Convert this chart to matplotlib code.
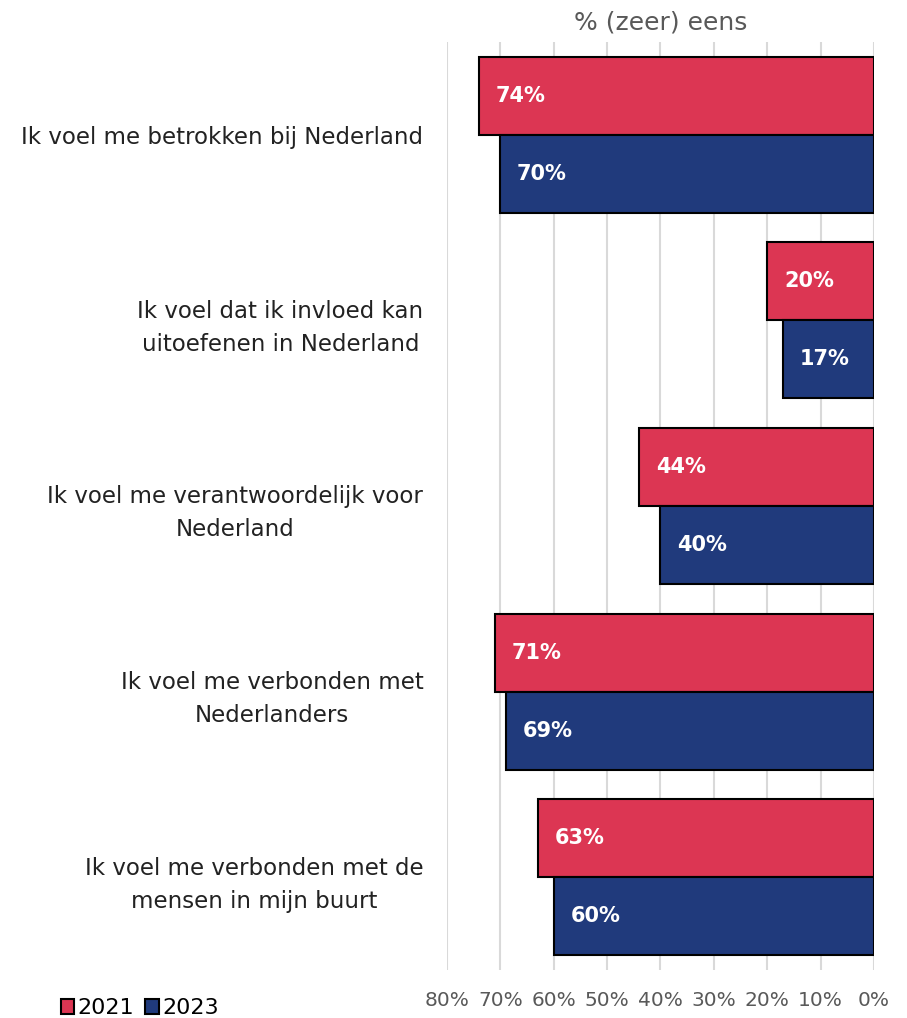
import matplotlib.pyplot as plt
import numpy as np

categories = [
    "Ik voel me betrokken bij Nederland",
    "Ik voel dat ik invloed kan\nuitoefenen in Nederland",
    "Ik voel me verantwoordelijk voor\nNederland",
    "Ik voel me verbonden met\nNederlanders",
    "Ik voel me verbonden met de\nmensen in mijn buurt",
]
vals_2021 = [74, 20, 44, 71, 63]
vals_2023 = [70, 17, 40, 69, 60]
series_names = ["2021", "2023"]
xticks = [80, 70, 60, 50, 40, 30, 20, 10, 0]

red = "#DC3653"
blue = "#203A7C"
grey = "#595959"

plt.rcParams['font.family'] = ['DejaVu Sans']

fig = plt.figure(figsize=(9.07, 10.18), dpi=100)
ax = fig.add_axes([0.4928, 0.0472, 0.4708, 0.9115])

y = np.arange(len(categories))
h = 0.42
b1 = ax.barh(y - h / 2, vals_2021, height=h, color=red, edgecolor="black", linewidth=1.5, label=series_names[0], zorder=3)
b2 = ax.barh(y + h / 2, vals_2023, height=h, color=blue, edgecolor="black", linewidth=1.5, label=series_names[1], zorder=3)

for bars, vals in ((b1, vals_2021), (b2, vals_2023)):
    for bar, v in zip(bars, vals):
        ax.annotate(f"{v}%", (v, bar.get_y() + bar.get_height() / 2),
                    xytext=(12, 0), textcoords="offset points",
                    ha="left", va="center", color="white",
                    fontsize=15, fontweight="bold", zorder=4)

ax.set_xlim(80, 0)
ax.set_ylim(len(categories) - 0.5, -0.5)
ax.set_xticks(xticks)
ax.set_xticklabels([f"{t}%" for t in xticks], color=grey, fontsize=14.5)
ax.tick_params(axis="x", length=0, pad=15)
ax.set_yticks(y)
ax.set_yticklabels(categories, fontsize=16.5, color="#222222", ha="right",
                   multialignment="center", linespacing=1.55)
ax.tick_params(axis="y", length=0, pad=17)
ax.xaxis.grid(True, color="#D9D9D9", linewidth=1.5, zorder=0)
for s in ax.spines.values():
    s.set_visible(False)

fig.text(0.728, 0.978, "% (zeer) eens", ha="center", va="center", color=grey, fontsize=18)

fig.legend(handles=[b1, b2], labels=series_names, loc="lower left",
           bbox_to_anchor=(0.045, -0.02), ncol=2, frameon=False,
           fontsize=16, handlelength=0.6, handleheight=0.6,
           handletextpad=0.15, columnspacing=0.5)

fig.savefig("out.png", dpi=100)
